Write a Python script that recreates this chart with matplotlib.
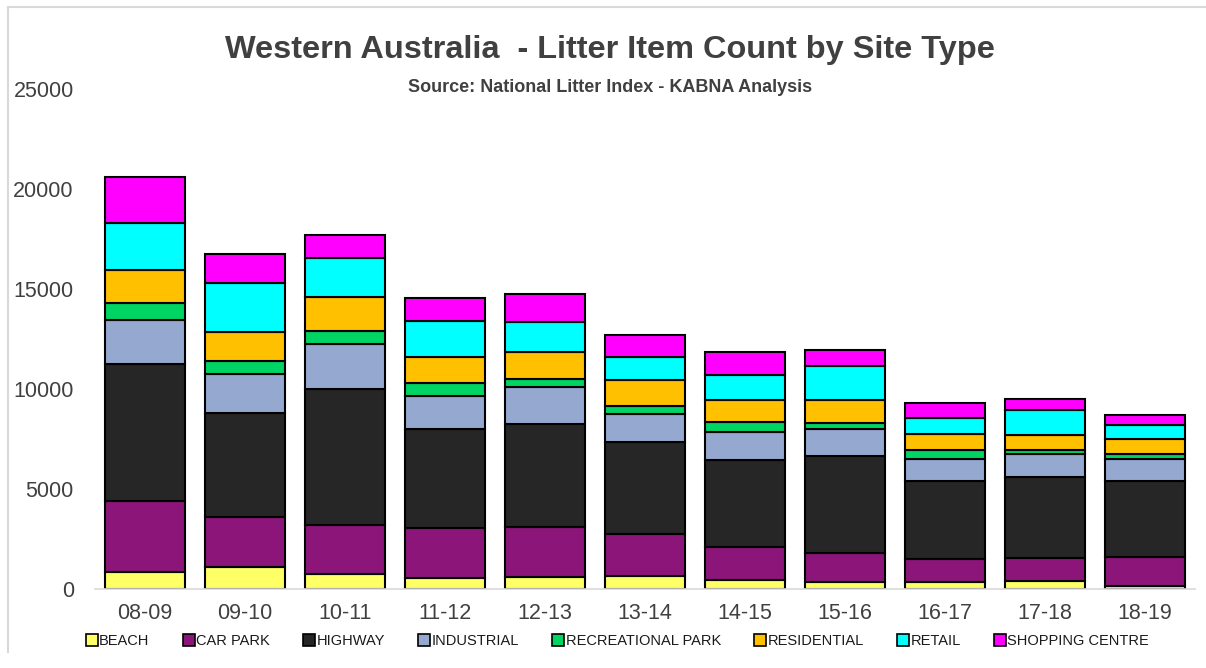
import matplotlib
matplotlib.use("Agg")
import matplotlib.pyplot as plt
from matplotlib.lines import Line2D
import numpy as np

plt.rcParams['font.family'] = ['Liberation Sans', 'DejaVu Sans']

years = ["08-09", "09-10", "10-11", "11-12", "12-13", "13-14", "14-15", "15-16", "16-17", "17-18", "18-19"]
site_types = ["BEACH", "CAR PARK", "HIGHWAY", "INDUSTRIAL", "RECREATIONAL PARK", "RESIDENTIAL", "RETAIL", "SHOPPING CENTRE"]

beach = [870, 1120, 750, 570, 620, 670, 470, 340, 340, 390, 150]
car_park = [3530, 2500, 2440, 2480, 2470, 2100, 1650, 1450, 1160, 1160, 1470]
highway = [6850, 5170, 6800, 4970, 5180, 4590, 4340, 4880, 3900, 4070, 3770]
industrial = [2220, 1950, 2280, 1640, 1820, 1390, 1390, 1350, 1120, 1130, 1130]
recreational_park = [820, 650, 640, 650, 400, 400, 520, 300, 450, 200, 220]
residential = [1670, 1470, 1670, 1270, 1380, 1320, 1070, 1120, 790, 750, 770]
retail = [2340, 2430, 1990, 1820, 1490, 1140, 1270, 1700, 790, 1240, 690]
shopping_centre = [2300, 1470, 1150, 1170, 1390, 1100, 1120, 830, 730, 580, 520]

series = [beach, car_park, highway, industrial, recreational_park, residential, retail, shopping_centre]
colors = ["#FFFF66", "#8B1578", "#262626", "#95A9D0", "#00D462", "#FFC000", "#00FFFF", "#FF00FF"]

W, H = 1206, 668
fig = plt.figure(figsize=(W / 100, H / 100), dpi=100)
ax = fig.add_axes([94.7 / W, (H - 589) / H, 1100 / W, 500 / H])

x = np.arange(len(years))
bottom = np.zeros(len(years))
for vals, col, name in zip(series, colors, site_types):
    ax.bar(x, vals, width=0.8, bottom=bottom, color=col, edgecolor="black", linewidth=1.5, label=name)
    bottom += np.array(vals)

ax.set_xlim(-0.5, len(years) - 0.5)
ax.set_ylim(0, 25000)
ax.set_yticks([0, 5000, 10000, 15000, 20000, 25000])
ax.set_xticks(x)
ax.set_xticklabels(years)
for s in ["left", "right", "top"]:
    ax.spines[s].set_visible(False)
ax.spines["bottom"].set_color("#D9D9D9")
ax.spines["bottom"].set_linewidth(1.2)
ax.tick_params(axis="both", length=0, colors="#404040", labelsize=15.5)
ax.tick_params(axis="y", pad=15)
ax.tick_params(axis="x", pad=10)

fig.text(609.5 / W, 1 - 50 / H, "Western Australia  - Litter Item Count by Site Type",
         ha="center", va="center", fontsize=23.4, fontweight="bold", color="#404040")
fig.text(610 / W, 1 - 87 / H, "Source: National Litter Index - KABNA Analysis",
         ha="center", va="center", fontsize=13, fontweight="bold", color="#404040")

handles = [Line2D([0], [0], marker="s", linestyle="none", markersize=8,
                  markerfacecolor=c, markeredgecolor="black", markeredgewidth=1.2) for c in colors]
leg = fig.legend(handles, site_types, loc="center", bbox_to_anchor=(618 / W, 1 - 641 / H),
                 ncol=8, frameon=False, fontsize=10.5, handlelength=0.7, handletextpad=0.15,
                 columnspacing=2.35, labelcolor="#1A1A1A")

# chart area border (left and top edges visible)
fig.add_artist(Line2D([8 / W, 8 / W], [1 - 652 / H, 1 - 7 / H], color="#D9D9D9", linewidth=1.5, transform=fig.transFigure))
fig.add_artist(Line2D([8 / W, 1.0], [1 - 7 / H, 1 - 7 / H], color="#D9D9D9", linewidth=1.5, transform=fig.transFigure))

fig.savefig("out.png", dpi=100)
